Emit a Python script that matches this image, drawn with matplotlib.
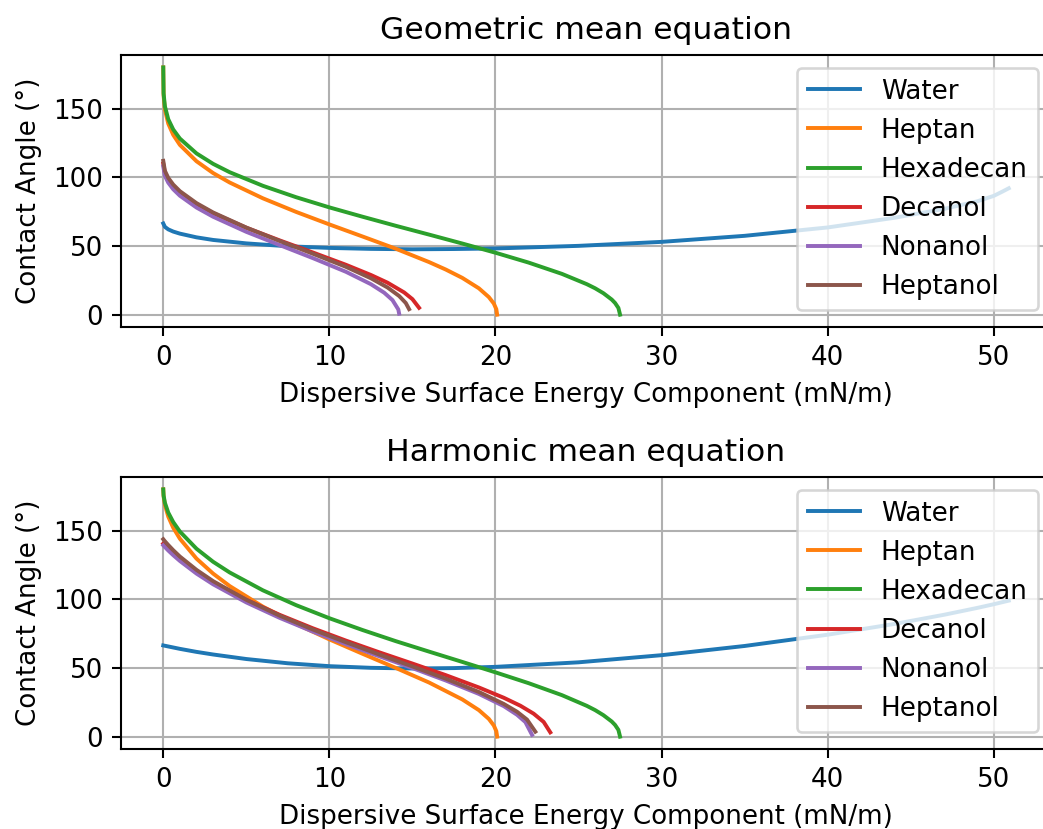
import matplotlib
matplotlib.use("Agg")
from matplotlib import pyplot as plt

names = ["Water", "Heptan", "Hexadecan", "Decanol", "Nonanol", "Heptanol"]

# Geometric mean equation
geo_water_x = [0, 0.1, 0.3, 0.6, 1, 2, 3, 5, 7.5, 10, 12.5, 15, 17.5, 20, 25, 30, 35, 40, 44, 47, 49, 50, 50.5, 50.9]
geo_water_y = [66.4, 63.9, 62.1, 60.5, 59.0, 56.3, 54.4, 51.9, 49.8, 48.6, 47.9, 47.6, 47.8, 48.2, 50.1, 53.0, 57.4, 63.5, 70.5, 77.0, 82.5, 86.5, 89.5, 92.0]

geo_heptan_x = [0, 0.02, 0.1, 0.3, 0.6, 1, 2, 3, 4, 6, 8, 10, 12, 14, 16, 17, 18, 19, 19.6, 19.9, 20.05, 20.1]
geo_heptan_y = [180, 159.6, 149.2, 139.1, 130.9, 123.6, 111.7, 103.1, 96.2, 84.7, 74.8, 65.7, 56.9, 48.0, 38.3, 32.9, 26.8, 19.2, 12.8, 8.1, 4.0, 0]

geo_hexa_x = [0, 0.02, 0.1, 0.3, 0.6, 1, 2, 3, 4, 6, 8, 10, 12, 14, 16, 18, 20, 22, 24, 25.5, 26, 26.5, 27, 27.2, 27.4, 27.5]
geo_hexa_y = [180, 161.1, 151.6, 142.3, 134.8, 128.2, 117.4, 109.8, 103.7, 93.8, 85.5, 78.1, 71.3, 64.7, 58.3, 51.8, 45.1, 37.9, 29.7, 22.2, 19.2, 15.6, 11.0, 8.5, 4.9, 0]

geo_decanol_x = [0, 0.1, 0.3, 0.6, 1, 2, 3, 5, 7, 9, 11, 12.5, 13.5, 14.5, 15, 15.4]
geo_decanol_y = [110.0, 103.1, 98.2, 93.5, 88.8, 80.4, 73.9, 63.3, 54.1, 45.3, 36.3, 28.9, 23.3, 16.2, 11.3, 5.0]

geo_nonanol_x = [0, 0.1, 0.3, 0.6, 1, 2, 3, 5, 7, 9, 11, 12.5, 13.3, 13.8, 14.15, 14.2]
geo_nonanol_y = [108.0, 101.0, 96.1, 91.3, 86.6, 78.0, 71.3, 60.3, 50.7, 41.2, 31.2, 22.2, 16.0, 10.6, 3.8, 0.7]

geo_heptanol_x = [0, 0.1, 0.3, 0.6, 1, 2, 3, 5, 7, 9, 11, 12.5, 13.5, 14.2, 14.6, 14.8]
geo_heptanol_y = [112.0, 104.7, 99.6, 94.7, 89.9, 81.2, 74.4, 63.4, 53.7, 44.4, 34.8, 26.5, 19.8, 13.6, 8.5, 4.0]

# Harmonic mean equation
har_water_x = [0, 1, 2, 3, 5, 7.5, 10, 12.5, 15, 17.5, 20, 25, 30, 35, 40, 44, 47, 49, 50, 50.9]
har_water_y = [66.4, 63.9, 61.7, 59.8, 56.5, 53.4, 51.3, 50.1, 49.6, 49.9, 50.8, 54.1, 59.3, 66.0, 74.2, 82.0, 88.7, 93.7, 96.4, 99.0]

har_heptan_x = [0, 0.02, 0.1, 0.3, 0.6, 1, 2, 3, 4, 6, 8, 10, 12, 14, 16, 18, 19, 19.6, 19.9, 20.05, 20.1]
har_heptan_y = [180, 174.9, 168.6, 160.2, 152.1, 144.1, 129.6, 118.7, 109.6, 94.6, 82.0, 70.8, 60.3, 50.0, 39.4, 27.1, 19.3, 12.9, 8.1, 4.0, 0]

har_hexa_x = [0, 0.02, 0.1, 0.3, 0.6, 1, 2, 3, 4, 6, 8, 10, 12, 14, 16, 18, 20, 22, 24, 25.5, 26, 26.5, 27, 27.2, 27.4, 27.5]
har_hexa_y = [180, 175.6, 170.2, 163.1, 156.2, 149.3, 136.8, 127.3, 119.5, 106.5, 95.7, 86.2, 77.6, 69.5, 61.9, 54.4, 46.8, 38.9, 30.2, 22.4, 19.3, 15.6, 11.0, 8.5, 4.9, 0]

har_decanol_x = [0, 0.1, 0.3, 0.6, 1, 2, 3, 5, 7, 9, 11, 13, 15, 17, 19, 20.5, 21.5, 22.3, 22.9, 23.3]
har_decanol_y = [140.5, 139.3, 136.8, 133.4, 129.3, 120.3, 112.6, 99.6, 88.7, 78.9, 69.9, 61.4, 53.2, 44.8, 35.8, 28.3, 22.5, 16.7, 10.7, 3.1]

har_nonanol_x = [0, 0.1, 0.3, 0.6, 1, 2, 3, 5, 7, 9, 11, 13, 15, 17, 19, 20.5, 21.3, 21.8, 22.2]
har_nonanol_y = [139.3, 138.0, 135.5, 132.1, 127.9, 118.7, 110.9, 97.7, 86.5, 76.5, 67.3, 58.5, 49.9, 40.9, 31.1, 22.2, 15.9, 10.6, 1.3]

har_heptanol_x = [0, 0.1, 0.3, 0.6, 1, 2, 3, 5, 7, 9, 11, 13, 15, 17, 19, 20.5, 21.3, 21.9, 22.4]
har_heptanol_y = [143.7, 142.2, 139.5, 135.7, 131.1, 121.4, 113.2, 99.6, 88.1, 78.0, 68.7, 59.8, 51.1, 42.2, 32.5, 23.8, 18.1, 12.4, 3.6]

geo_x = [geo_water_x, geo_heptan_x, geo_hexa_x, geo_decanol_x, geo_nonanol_x, geo_heptanol_x]
geo_y = [geo_water_y, geo_heptan_y, geo_hexa_y, geo_decanol_y, geo_nonanol_y, geo_heptanol_y]
har_x = [har_water_x, har_heptan_x, har_hexa_x, har_decanol_x, har_nonanol_x, har_heptanol_x]
har_y = [har_water_y, har_heptan_y, har_hexa_y, har_decanol_y, har_nonanol_y, har_heptanol_y]

dpi = 188
fig = plt.figure(figsize=(1043 / dpi, 829 / dpi), dpi=dpi)
ax1 = fig.add_axes([0.116, 0.6055, 0.8917, 0.3281])
ax2 = fig.add_axes([0.116, 0.0965, 0.8917, 0.3281])

for ax, xs, ys, title in [(ax1, geo_x, geo_y, "Geometric mean equation"),
                          (ax2, har_x, har_y, "Harmonic mean equation")]:
    for i in range(len(names)):
        ax.plot(xs[i], ys[i], label=names[i])
    ax.set_title(title)
    ax.set_xlabel("Dispersive Surface Energy Component (mN/m)")
    ax.set_ylabel("Contact Angle (°)")
    ax.grid(True)
    ax.legend(loc="upper right")

fig.savefig("out.png", dpi=dpi)
